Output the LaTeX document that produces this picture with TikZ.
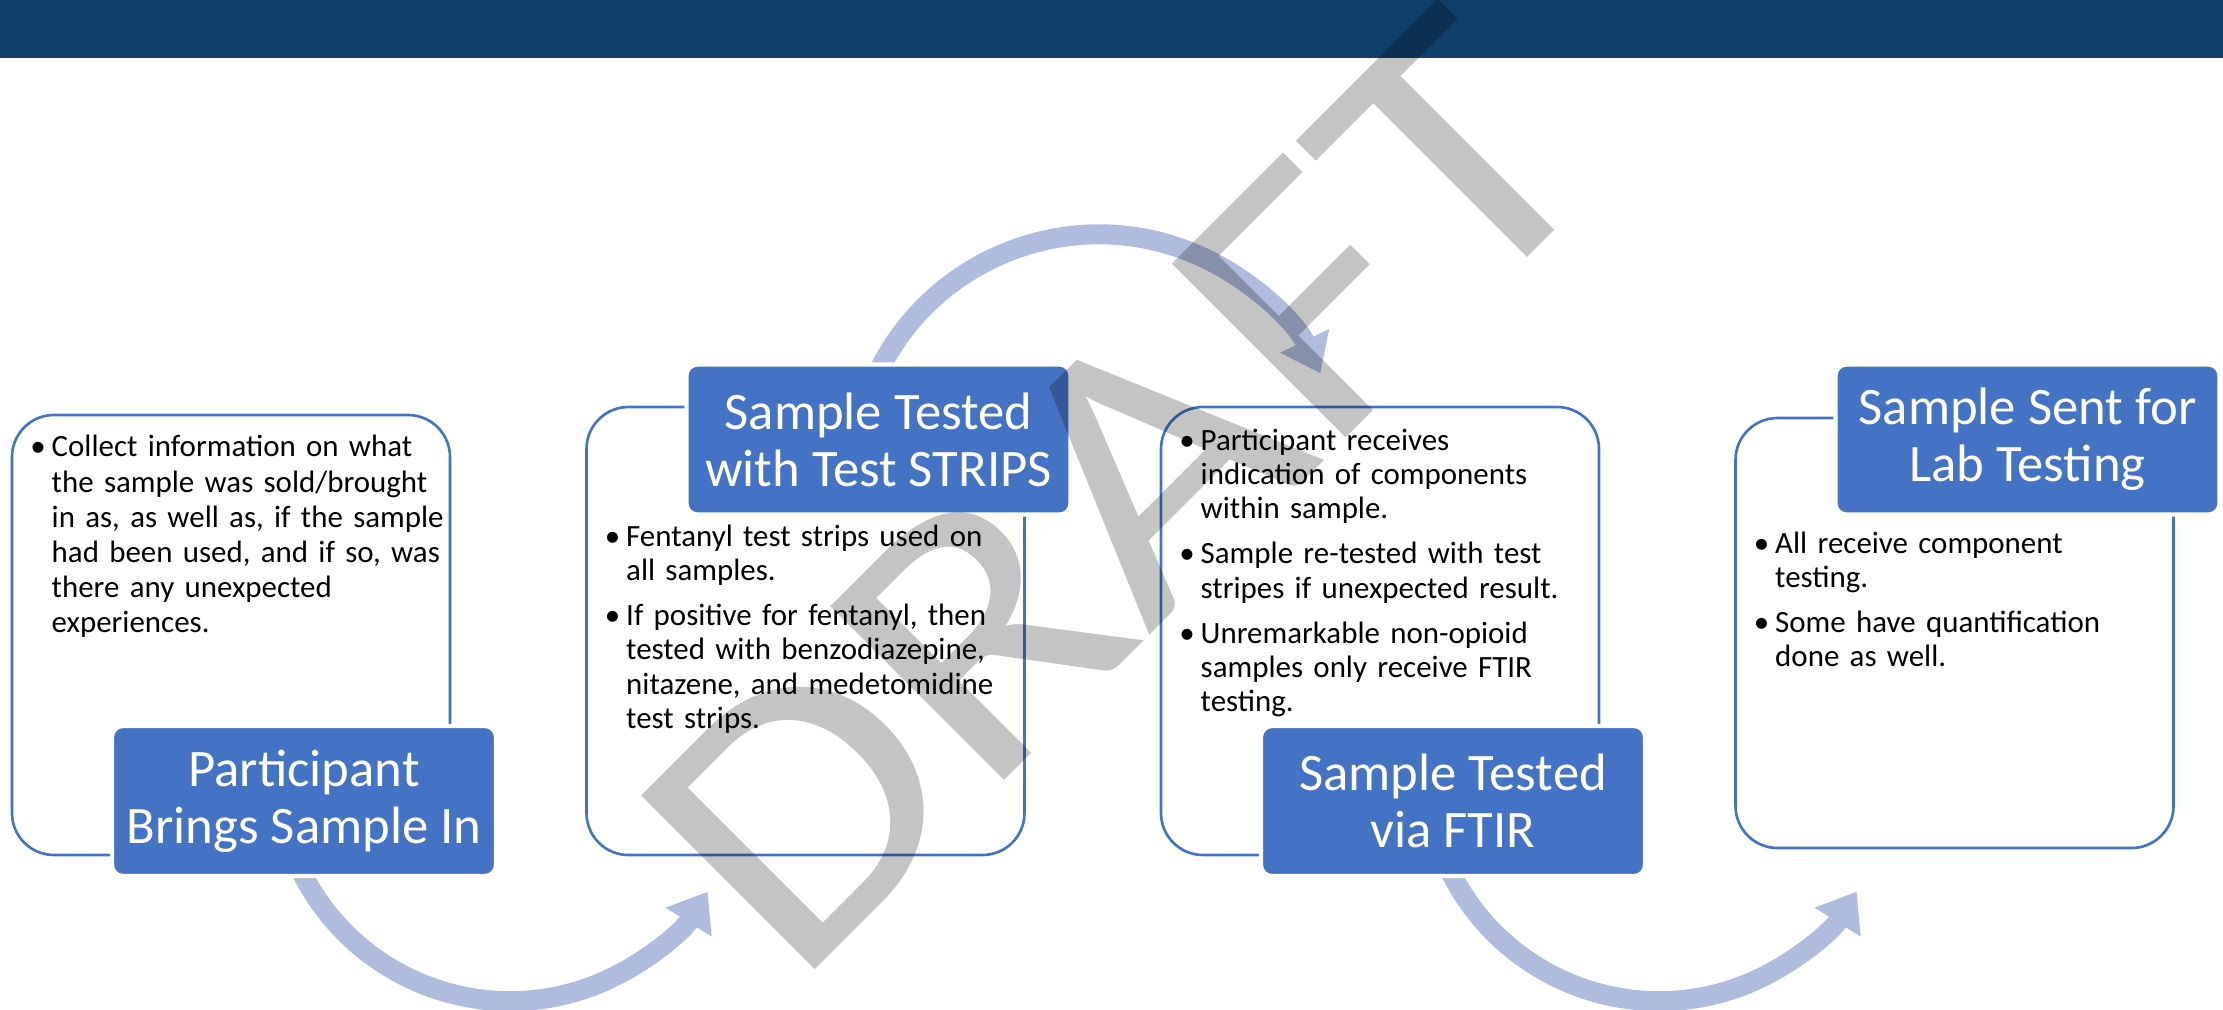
\documentclass[tikz,border=0pt]{standalone}
\usepackage{fontspec}
\setmainfont{Carlito}
\usepackage{enumitem}
\usetikzlibrary{arrows.meta, backgrounds}
\definecolor{barblue}{HTML}{103F6A}
\definecolor{stepblue}{HTML}{4472C4}
\definecolor{arcblue}{HTML}{B0BCDE}
\setlist[itemize]{label=\textbullet, leftmargin=0.17cm, labelsep=0.06cm, itemsep=3.1pt, parsep=0pt, topsep=0pt, partopsep=0pt}

\tikzset{
  infobox/.style={draw=stepblue, line width=0.75pt, rounded corners=0.42cm, minimum width=4.38cm, inner sep=0pt},
  titlebox/.style={fill=stepblue, draw=white, line width=1.2pt, rounded corners=0.11cm, minimum width=3.84cm, minimum height=1.50cm, text=white, align=center, font=\fontsize{15}{16.2}\selectfont, inner sep=0pt},
  bodytext/.style={anchor=north west, text width=4.3cm, inner sep=0pt, font=\fontsize{8.8}{9.7}\selectfont, align=left},
  flowarrow/.style={arcblue, line width=2mm, -{Triangle[width=5.2mm,length=3.6mm]}},
}

\begin{document}
\begin{tikzpicture}
    \useasboundingbox (0,0) rectangle (22.23,10.09);

    % Header bar
    \fill[barblue] (0,9.51) rectangle (22.23,10.09);

    % Outlined boxes
    \node[infobox, minimum height=4.40cm] (info1) at (2.31,3.74) {};
    \node[infobox, minimum height=4.48cm] (info2) at (8.055,3.78) {};
    \node[infobox, minimum height=4.48cm] (info3) at (13.80,3.78) {};
    \node[infobox, minimum height=4.30cm] (info4) at (19.545,3.76) {};

    % Step titles
    \node[titlebox] (step1) at (3.04,2.08) {Participant\\Brings Sample In};
    \node[titlebox] (step2) at (8.785,5.695) {Sample Tested\\with Test STRIPS};
    \node[titlebox] (step3) at (14.53,2.08) {Sample Tested\\via FTIR};
    \node[titlebox] (step4) at (20.275,5.695) {Sample Sent for\\Lab Testing};

    % Curved arrows (behind the titles)
    \begin{pgfonlayer}{background}
        \draw[flowarrow] ([shift={(1.89,0.115)}]step1.south west) arc[start angle=205, end angle=328, radius=2.33];
        \draw[flowarrow] ([shift={(1.915,-0.14)}]step2.north west) arc[start angle=155, end angle=25.8, radius=2.46];
        \draw[flowarrow] ([shift={(1.89,0.115)}]step3.south west) arc[start angle=205, end angle=328, radius=2.33];
    \end{pgfonlayer}

    % Bullet texts
    \node[bodytext, font=\fontsize{8.8}{10}\selectfont] (text1) at (0.34,5.88) {\begin{itemize}
        \item Collect information on what\\the sample was sold/brought\\in as, as well as, if the sample\\had been used, and if so, was\\there any unexpected\\experiences.
    \end{itemize}};
    \node[bodytext] (text2) at (6.085,4.97) {\begin{itemize}
        \item Fentanyl test strips used on\\all samples.
        \item If positive for fentanyl, then\\tested with benzodiazepine,\\nitazene, and medetomidine\\test strips.
    \end{itemize}};
    \node[bodytext] (text3) at (11.83,5.93) {\begin{itemize}
        \item Participant receives\\indication of components\\within sample.
        \item Sample re-tested with test\\stripes if unexpected result.
        \item Unremarkable non-opioid\\samples only receive FTIR\\testing.
    \end{itemize}};
    \node[bodytext] (text4) at (17.575,4.90) {\begin{itemize}
        \item All receive component\\testing.
        \item Some have quantification\\done as well.
    \end{itemize}};

    % Watermark
    \node[font=\fontsize{109}{109}\selectfont, text=black, text opacity=0.23, rotate=45, xscale=1.13, inner sep=0pt] (draft) at (11.18,5.16) {DRAFT};
\end{tikzpicture}
\end{document}
